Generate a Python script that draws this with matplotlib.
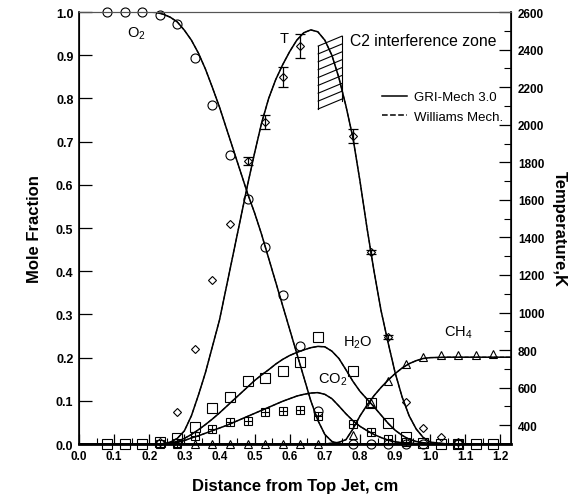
import numpy as np
import matplotlib
matplotlib.use("Agg")
import matplotlib.pyplot as plt
from matplotlib.ticker import MultipleLocator, FormatStrFormatter

plt.rcParams['font.family'] = ['Liberation Sans', 'DejaVu Sans']
plt.rcParams['mathtext.default'] = 'regular'

# measured points (distance, cm)
o2_x = [0.08, 0.13, 0.18, 0.23, 0.28, 0.33, 0.38, 0.43, 0.48, 0.53, 0.58, 0.63, 0.68,
        0.78, 0.83, 0.88, 0.93, 0.98]
o2_pts = [1.0, 1.0, 1.0, 0.994, 0.972, 0.893, 0.785, 0.669, 0.567, 0.456, 0.345, 0.227, 0.076,
          0.0, 0.0, 0.0, 0.0, 0.0]
h2o_x = [0.08, 0.13, 0.18, 0.23, 0.28, 0.33, 0.38, 0.43, 0.48, 0.53, 0.58, 0.63, 0.68,
         0.78, 0.83, 0.88, 0.93, 0.98, 1.03, 1.08, 1.13, 1.18]
h2o_pts = [0.0, 0.0, 0.0, 0.005, 0.013, 0.040, 0.083, 0.110, 0.146, 0.152, 0.168, 0.190, 0.248,
           0.169, 0.095, 0.048, 0.017, 0.003, 0.0, 0.0, 0.0, 0.0]
co2_x = [0.23, 0.28, 0.33, 0.38, 0.43, 0.48, 0.53, 0.58, 0.63, 0.68, 0.78, 0.83, 0.88, 0.93, 1.08]
co2_pts = [0.0, 0.003, 0.019, 0.034, 0.050, 0.054, 0.073, 0.077, 0.079, 0.066, 0.046, 0.027,
           0.012, 0.004, 0.0]
ch4_x = [0.28, 0.33, 0.38, 0.43, 0.48, 0.53, 0.58, 0.63, 0.68, 0.78, 0.83, 0.88, 0.93, 0.98,
         1.03, 1.08, 1.13, 1.18]
ch4_pts = [0.0, 0.0, 0.0, 0.0, 0.0, 0.0, 0.0, 0.0, 0.0, 0.022, 0.095, 0.146, 0.185, 0.202,
           0.205, 0.207, 0.205, 0.209]
t_x = [0.23, 0.28, 0.33, 0.38, 0.43, 0.48, 0.53, 0.58, 0.63, 0.78, 0.83, 0.88, 0.93, 0.98,
       1.03, 1.08]
t_pts = [310, 470, 806, 1173, 1471, 1807, 2014, 2254, 2419, 1940, 1322, 870, 524, 385, 337, 310]
t_err = [0, 0, 0, 0, 0, 21, 37, 53, 62, 37, 12, 12, 0, 0, 0, 0]

# model curves (GRI-Mech 3.0)
cx = [0.0, 0.20, 0.22, 0.24, 0.26, 0.28, 0.30, 0.32, 0.34, 0.36, 0.38, 0.40, 0.42, 0.44, 0.46,
      0.48, 0.50, 0.52, 0.54, 0.56, 0.58, 0.60, 0.62, 0.64, 0.66, 0.68, 0.70, 0.72, 0.74, 0.76,
      0.78, 0.80, 0.82, 0.84, 0.86, 0.88, 0.90, 0.92, 0.94, 0.96, 0.98, 1.00, 1.05, 1.10, 1.23]
o2_gri = [1.0, 1.0, 0.999, 0.995, 0.988, 0.977, 0.958, 0.935, 0.905, 0.868, 0.825, 0.78, 0.73,
          0.68, 0.63, 0.58, 0.535, 0.485, 0.43, 0.375, 0.32, 0.265, 0.21, 0.155, 0.10, 0.055,
          0.022, 0.006, 0.001, 0.0, 0.0, 0.0, 0.0, 0.0, 0.0, 0.0, 0.0, 0.0, 0.0, 0.0, 0.0, 0.0,
          0.0, 0.0, 0.0]
h2o_gri = [0.0, 0.0, 0.0, 0.0, 0.002, 0.006, 0.013, 0.022, 0.033, 0.045, 0.058, 0.072, 0.087,
           0.102, 0.117, 0.132, 0.147, 0.160, 0.172, 0.185, 0.196, 0.205, 0.212, 0.218, 0.223,
           0.226, 0.225, 0.215, 0.198, 0.172, 0.145, 0.122, 0.104, 0.086, 0.067, 0.048, 0.032,
           0.020, 0.011, 0.006, 0.003, 0.001, 0.0, 0.0, 0.0]
co2_gri = [0.0, 0.0, 0.0, 0.0, 0.001, 0.004, 0.008, 0.014, 0.019, 0.025, 0.031, 0.037, 0.043,
           0.050, 0.057, 0.064, 0.071, 0.078, 0.085, 0.092, 0.099, 0.105, 0.111, 0.115, 0.118,
           0.119, 0.115, 0.105, 0.088, 0.070, 0.054, 0.041, 0.031, 0.022, 0.015, 0.009, 0.005,
           0.003, 0.002, 0.001, 0.0, 0.0, 0.0, 0.0, 0.0]
ch4_gri = [0.0, 0.0, 0.0, 0.0, 0.0, 0.0, 0.0, 0.0, 0.0, 0.0, 0.0, 0.0, 0.0, 0.0, 0.0, 0.0, 0.0,
           0.0, 0.0, 0.0, 0.0, 0.0, 0.0, 0.0, 0.0, 0.0, 0.0, 0.002, 0.004, 0.01, 0.035, 0.065,
           0.090, 0.112, 0.131, 0.148, 0.163, 0.176, 0.186, 0.193, 0.198, 0.200, 0.201, 0.201, 0.201]
t_gri = [300, 300, 300, 302, 310, 330, 370, 450, 560, 680, 820, 960, 1140, 1320, 1500, 1680,
         1850, 2010, 2140, 2240, 2320, 2390, 2450, 2490, 2505, 2495, 2450, 2370, 2250, 2100,
         1930, 1700, 1450, 1220, 1010, 840, 680, 550, 450, 380, 335, 310, 300, 300, 300]

# C2 interference zone (x range, T at left / right of top and bottom edges)
zone_x = [0.681, 0.749]
zone_top = [2419, 2472]
zone_bot = [2084, 2126]
n_hatch = 9

fig = plt.figure(figsize=(5.79, 5.02), dpi=100)
ax = fig.add_axes([0.1364, 0.1135, 0.7462, 0.8605])
ax2 = ax.twinx()

lw = 1.1
for curve in [o2_gri, h2o_gri, co2_gri, ch4_gri]:
    ax.plot(cx, curve, 'k-', lw=lw)
    ax.plot(cx, curve, 'k--', lw=0.8)

mk = dict(linestyle='none', mfc='none', mec='k', mew=0.8, clip_on=False, zorder=5)
ax.plot(o2_x, o2_pts, marker='o', ms=6.5, **mk)
ax.plot(h2o_x, h2o_pts, marker='s', ms=6.5, **mk)
ax.plot(co2_x, co2_pts, marker='s', ms=5.5, **mk)
ax.plot(co2_x, co2_pts, marker='+', ms=5.5, **mk)
ax.plot(ch4_x, ch4_pts, marker='^', ms=6, **mk)

ax2.plot(cx, t_gri, 'k-', lw=lw)
ax2.plot(cx, t_gri, 'k--', lw=0.8)
ax2.plot(t_x, t_pts, marker='D', ms=4.5, **mk)
t_err = np.array(t_err)
m = t_err > 0
ax2.errorbar(np.array(t_x)[m], np.array(t_pts)[m], yerr=t_err[m], fmt='none',
             ecolor='k', elinewidth=0.9, capsize=3.5, capthick=0.9)

# hatched zone
dy_top = (zone_top[1] - zone_top[0])
step = (zone_top[0] - zone_bot[0]) / (n_hatch - 1)
for i in range(n_hatch):
    y0 = zone_bot[0] + i * step
    ax2.plot(zone_x, [y0, y0 + dy_top], 'k-', lw=0.8)
ax2.plot([zone_x[0], zone_x[0]], [zone_bot[0], zone_top[0]], 'k-', lw=0.8)
ax2.plot([zone_x[1], zone_x[1]], [zone_bot[1], zone_top[1]], 'k-', lw=0.8)

# legend
ax2.plot([], [], 'k-', lw=lw, label='GRI-Mech 3.0')
ax2.plot([], [], 'k--', lw=lw, label='Williams Mech.')
ax2.legend(loc='upper right', bbox_to_anchor=(1.0, 0.835), frameon=False, fontsize=9.5,
           handlelength=1.9, handletextpad=0.5, labelspacing=0.55, borderaxespad=0.2)

ax.text(0.136, 0.953, 'O$_2$', fontsize=10.5, va='center')
ax.text(0.57, 0.94, 'T', fontsize=10.5, va='center')
ax.text(0.772, 0.935, 'C2 interference zone', fontsize=11.3, va='center')
ax.text(0.752, 0.236, 'H$_2$O', fontsize=10.5, va='center')
ax.text(0.68, 0.15, 'CO$_2$', fontsize=10.5, va='center')
ax.text(1.04, 0.259, 'CH$_4$', fontsize=10.5, va='center')

ax.set_xlim(0, 1.23)
ax.set_ylim(0, 1.0)
ax2.set_ylim(300, 2600)
ax.xaxis.set_major_locator(MultipleLocator(0.1))
ax.xaxis.set_minor_locator(MultipleLocator(0.05))
ax.yaxis.set_major_locator(MultipleLocator(0.1))
ax.xaxis.set_major_formatter(FormatStrFormatter('%.1f'))
ax.yaxis.set_major_formatter(FormatStrFormatter('%.1f'))
ax2.set_yticks(np.arange(400, 2601, 200))
ax2.yaxis.set_minor_locator(MultipleLocator(100))

ax.tick_params(axis='x', which='major', direction='in', length=7, width=0.9, labelsize=8.5, pad=4)
ax.tick_params(axis='x', which='minor', direction='in', length=4, width=0.8)
ax.tick_params(axis='y', which='major', direction='in', length=9, width=0.9, labelsize=9, pad=4)
ax2.tick_params(axis='y', which='major', direction='in', length=9, width=0.9, labelsize=8.5, pad=5)
ax2.tick_params(axis='y', which='minor', direction='in', length=5, width=0.8)
for lab in ax.get_xticklabels() + ax.get_yticklabels() + ax2.get_yticklabels():
    lab.set_fontweight('bold')

ax.spines['top'].set_color('#555555')
ax2.spines['top'].set_color('#555555')
for s in ['left', 'bottom']:
    ax.spines[s].set_linewidth(1.2)
ax2.spines['right'].set_linewidth(1.2)
ax2.spines['bottom'].set_linewidth(2)

ax.set_xlabel('Distance from Top Jet, cm', fontsize=12, fontweight='bold', labelpad=12)
ax.set_ylabel('Mole Fraction', fontsize=12, fontweight='bold', labelpad=10)
ax2.set_ylabel('Temperature,K', fontsize=12, fontweight='bold', rotation=-90, labelpad=16)

fig.savefig('out.png', dpi=100)
